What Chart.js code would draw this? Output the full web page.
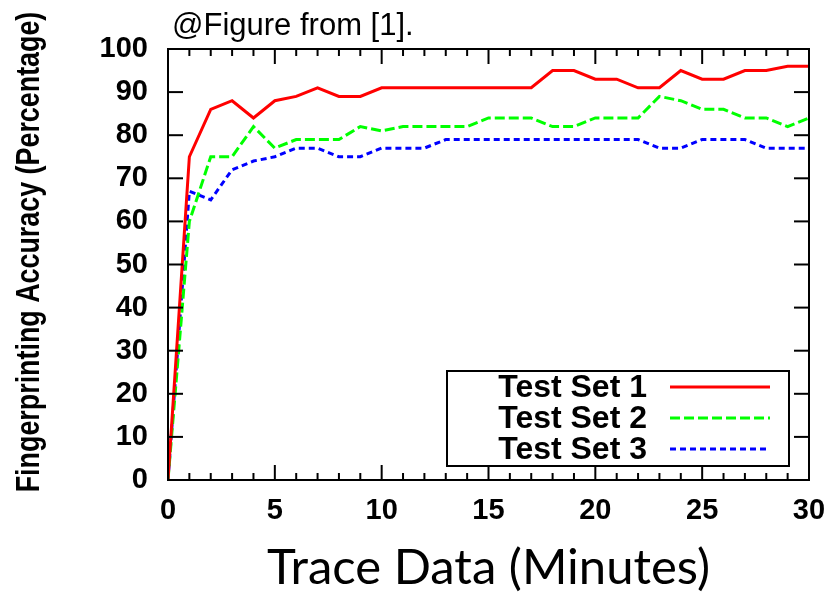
<!DOCTYPE html>
<html>
<head>
<meta charset="utf-8">
<script src="https://cdn.jsdelivr.net/npm/chart.js@4"></script>
<style>
  html, body { margin: 0; padding: 0; background: #fff; }
  #wrap { width: 833px; height: 594px; }
</style>
</head>
<body>
<div id="wrap"><canvas id="accuracyChart" width="833" height="594"></canvas></div>
<script>
// Trace length in minutes
const minutes = [0, 1, 2, 3, 4, 5, 6, 7, 8, 9, 10, 11, 12, 13, 14, 15, 16, 17, 18, 19, 20, 21, 22, 23, 24, 25, 26, 27, 28, 29, 30];

// Fingerprinting accuracy (%) per test set
const testSet1 = [0, 75, 86, 88, 84, 88, 89, 91, 89, 89, 91, 91, 91, 91, 91, 91, 91, 91, 95, 95, 93, 93, 91, 91, 95, 93, 93, 95, 95, 96, 96];
const testSet2 = [0, 60, 75, 75, 82, 77, 79, 79, 79, 82, 81, 82, 82, 82, 82, 84, 84, 84, 82, 82, 84, 84, 84, 89, 88, 86, 86, 84, 84, 82, 84];
const testSet3 = [0, 67, 65, 72, 74, 75, 77, 77, 75, 75, 77, 77, 77, 79, 79, 79, 79, 79, 79, 79, 79, 79, 79, 77, 77, 79, 79, 79, 77, 77, 77];

const seriesLabels = ["Test Set 1", "Test Set 2", "Test Set 3"];
const xTicks = [0, 5, 10, 15, 20, 25, 30];
const yTicks = [0, 10, 20, 30, 40, 50, 60, 70, 80, 90, 100];

const toPoints = (values) => values.map((v, i) => ({ x: minutes[i], y: v }));

// gnuplot-like frame: border, inward ticks, boxed legend, rotated y title
const framePlugin = {
  id: "frame",
  afterDatasetsDraw(chart) {
    const { ctx, chartArea, scales } = chart;
    const { left, right, top, bottom } = chartArea;
    const line = (x1, y1, x2, y2) => {
      ctx.beginPath();
      ctx.moveTo(x1, y1);
      ctx.lineTo(x2, y2);
      ctx.stroke();
    };

    ctx.save();
    ctx.strokeStyle = "#000";
    ctx.lineWidth = 2;
    ctx.setLineDash([]);

    // minor ticks every minute, major every 5
    minutes.forEach((m) => {
      const px = scales.x.getPixelForValue(m);
      const len = xTicks.includes(m) ? 15 : 7;
      line(px, bottom, px, bottom - len);
      line(px, top, px, top + len);
    });
    yTicks.forEach((v) => {
      const py = scales.y.getPixelForValue(v);
      line(left, py, left + 15, py);
      line(right, py, right - 15, py);
    });
    ctx.strokeRect(left, top, right - left, bottom - top);

    // legend box
    const bx = right - 362;
    const by = bottom - 109;
    ctx.fillStyle = "#fff";
    ctx.fillRect(bx, by, 342, 95);
    ctx.strokeRect(bx, by, 342, 95);
    ctx.font = "bold 32px 'Liberation Sans', Arial, sans-serif";
    ctx.textAlign = "right";
    ctx.textBaseline = "middle";
    chart.data.datasets.forEach((ds, i) => {
      const ry = by + 16 + i * 31;
      ctx.fillStyle = "#000";
      ctx.fillText(ds.label, bx + 200, ry + 1);
      ctx.strokeStyle = ds.borderColor;
      ctx.lineWidth = 3;
      ctx.setLineDash(ds.borderDash || []);
      line(bx + 223, ry, bx + 323, ry);
    });
    ctx.restore();
  },
  afterDraw(chart) {
    const { ctx } = chart;
    ctx.save();
    ctx.fillStyle = "#000";
    // y axis title (narrow bold, rotated)
    ctx.translate(39, 252);
    ctx.rotate(-Math.PI / 2);
    ctx.scale(0.79, 1);
    ctx.font = "bold 34px 'Liberation Sans', Arial, sans-serif";
    ctx.textAlign = "center";
    ctx.textBaseline = "alphabetic";
    ctx.fillText("Fingerprinting Accuracy (Percentage)", 0, 0);
    ctx.restore();

    ctx.save();
    ctx.fillStyle = "#000";
    ctx.font = "31px 'Liberation Sans', Arial, sans-serif";
    ctx.textAlign = "left";
    ctx.textBaseline = "alphabetic";
    ctx.fillText("@Figure from [1].", 172, 35);
    ctx.restore();
  },
};

const ctx = document.getElementById("accuracyChart").getContext("2d");

new Chart(ctx, {
  type: "line",
  data: {
    datasets: [
      {
        label: seriesLabels[0],
        data: toPoints(testSet1),
        borderColor: "rgb(255, 0, 0)",
        borderWidth: 3,
        pointRadius: 0,
        tension: 0,
      },
      {
        label: seriesLabels[1],
        data: toPoints(testSet2),
        borderColor: "rgb(0, 255, 0)",
        borderWidth: 3,
        borderDash: [10, 4],
        pointRadius: 0,
        tension: 0,
      },
      {
        label: seriesLabels[2],
        data: toPoints(testSet3),
        borderColor: "rgb(0, 0, 255)",
        borderWidth: 3,
        borderDash: [6, 4],
        pointRadius: 0,
        tension: 0,
      },
    ],
  },
  options: {
    responsive: false,
    animation: false,
    layout: {
      padding: { left: 100, right: 24, top: 49, bottom: 0 },
    },
    plugins: {
      legend: { display: false },
      tooltip: { enabled: false },
    },
    scales: {
      x: {
        type: "linear",
        min: 0,
        max: 30,
        grid: { display: false, drawTicks: false },
        border: { display: false },
        afterFit: (scale) => {
          scale.height = 114;
          scale.paddingLeft = 0;
          scale.paddingRight = 0;
        },
        afterBuildTicks: (scale) => { scale.ticks = xTicks.map((v) => ({ value: v })); },
        ticks: {
          color: "#000",
          padding: 14,
          maxRotation: 0,
          font: { family: "'Liberation Sans', Arial, sans-serif", size: 29, weight: "bold" },
        },
        title: {
          display: true,
          text: "Trace Data (Minutes)",
          color: "#000",
          padding: { top: 0, bottom: 1 },
          font: { family: "Lato, sans-serif", size: 49, lineHeight: 1 },
        },
      },
      y: {
        min: 0,
        max: 100,
        grid: { display: false, drawTicks: false },
        border: { display: false },
        afterFit: (scale) => { scale.width = 68; },
        afterBuildTicks: (scale) => { scale.ticks = yTicks.map((v) => ({ value: v })); },
        ticks: {
          color: "#000",
          padding: 20,
          font: { family: "'Liberation Sans', Arial, sans-serif", size: 29, weight: "bold" },
        },
      },
    },
  },
  plugins: [framePlugin],
});
</script>
</body>
</html>
